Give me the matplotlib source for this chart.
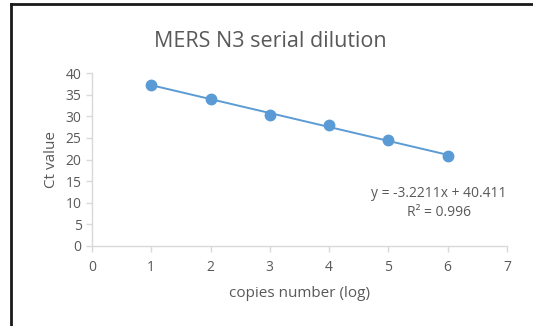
import numpy as np
import matplotlib.pyplot as plt
from matplotlib.lines import Line2D

# data
log_copies = [1, 2, 3, 4, 5, 6]
ct_values = [37.2, 34.1, 30.4, 28.0, 24.4, 20.7]
slope = -3.2211
intercept = 40.411
eq_text = "y = -3.2211x + 40.411"
r2_text = "R\u00b2 = 0.996"

blue = "#5b9bd5"
grey_txt = "#595959"
grey_ax = "#d9d9d9"

plt.rcParams['font.family'] = ['Open Sans', 'DejaVu Sans']

fig = plt.figure(figsize=(5.33, 3.26), dpi=100)
ax = fig.add_axes([0.1726, 0.2454, 0.7784, 0.5306])

# trendline
xs = np.array([log_copies[0], log_copies[-1]])
ax.plot(xs, slope * xs + intercept, color=blue, lw=1.4, zorder=2)
ax.plot(log_copies, ct_values, 'o', color=blue, ms=7.5, zorder=3)

ax.set_xlim(0, 7)
ax.set_ylim(0, 40)
ax.set_xticks(range(0, 8))
ax.set_yticks(range(0, 41, 5))

for s in ['top', 'right']:
    ax.spines[s].set_visible(False)
for s in ['left', 'bottom']:
    ax.spines[s].set_color(grey_ax)
    ax.spines[s].set_linewidth(1)
ax.tick_params(colors=grey_ax, labelcolor=grey_txt, labelsize=10, length=4, width=1)
ax.tick_params(axis='x', pad=6)

ax.set_xlabel("copies number (log)", color=grey_txt, fontsize=11, labelpad=8)
ax.set_ylabel("Ct value", color=grey_txt, fontsize=11, labelpad=5)
fig.suptitle("MERS N3 serial dilution", color=grey_txt, fontsize=15.5, x=0.508, y=0.905)

ax.text(5.85, 12.2, eq_text, color=grey_txt, fontsize=10, ha='center', va='center')
ax.text(5.85, 7.8, r2_text, color=grey_txt, fontsize=10, ha='center', va='center')

# outer frame (left and top edges only, as in the screenshot)
fig.add_artist(Line2D([0.0206, 0.0206], [0, 0.988], color='#1a1a1a', lw=2))
fig.add_artist(Line2D([0.0206, 1.0], [0.988, 0.988], color='#1a1a1a', lw=2))

fig.savefig("out.png", dpi=100)
